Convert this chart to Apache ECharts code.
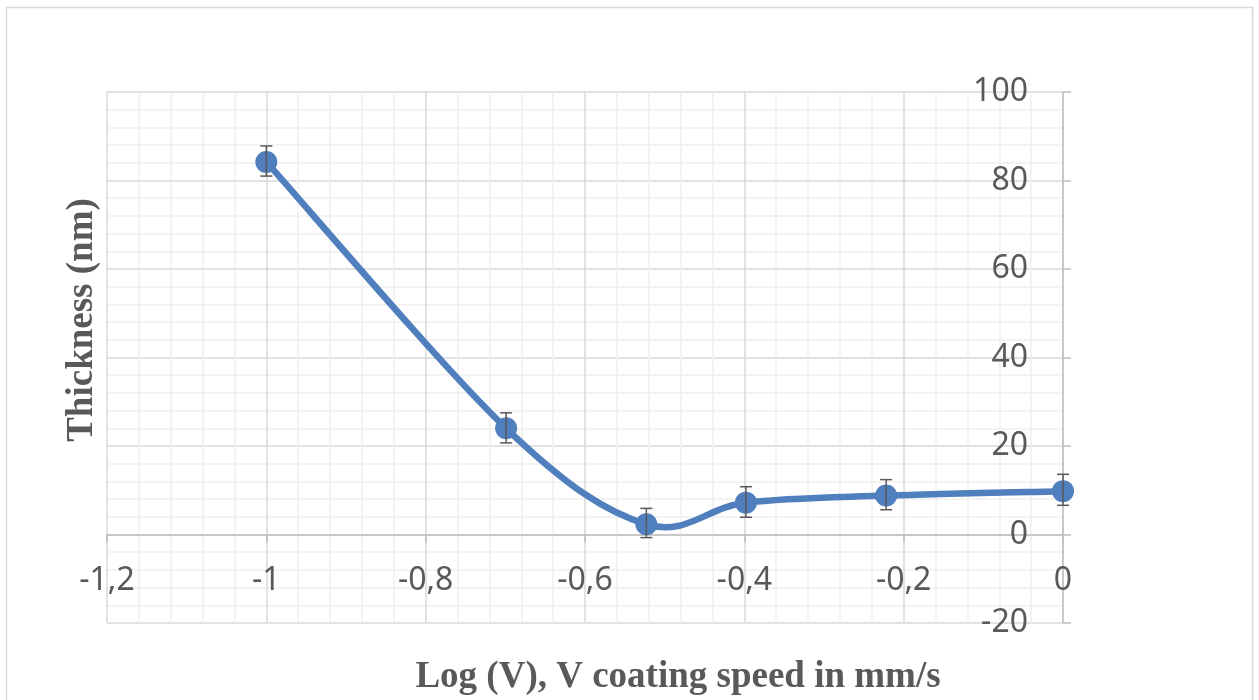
<!DOCTYPE html>
<html>
<head>
<meta charset="utf-8">
<script src="https://cdn.jsdelivr.net/npm/echarts@6/dist/echarts.min.js"></script>
<style>
html,body{margin:0;padding:0;background:#fff}
#chart{width:1259px;height:700px}
</style>
</head>
<body>
<div id="chart"></div>
<script>
// log10 of coating speed (0.1 .. 1 mm/s)
const logV = [-1, -0.699, -0.523, -0.398, -0.222, 0];
const thickness = [84.2, 24, 2.3, 7.2, 8.8, 9.8];
const errPlus = [3.6, 3.5, 3.6, 3.6, 3.6, 3.8];
const errMinus = [3.2, 3.3, 3, 3.3, 3.2, 3.2];

const xTitle = 'Log (V), V coating speed in mm/s';
const yTitle = 'Thickness (nm)';

const grey = '#595959';
const blue = '#4f7fbd';
const fmt = v => String(+Number(v).toFixed(2)).replace('.', ',');

const points = logV.map((x, i) => [x, thickness[i]]);
const bars = logV.map((x, i) => [x, thickness[i] - errMinus[i], thickness[i] + errPlus[i]]);

// excel-like smoothed line (catmull-rom, 1/6 handles), drawn once
function renderCurve(params, api) {
  if (params.dataIndex !== 0) return null;
  const p = points.map(d => api.coord(d));
  const segs = [];
  for (let i = 0; i < p.length - 1; i++) {
    const a = p[Math.max(i - 1, 0)], b = p[i], c = p[i + 1], d = p[Math.min(i + 2, p.length - 1)];
    segs.push({
      type: 'bezierCurve',
      shape: {
        x1: b[0], y1: b[1], x2: c[0], y2: c[1],
        cpx1: b[0] + (c[0] - a[0]) / 6, cpy1: b[1] + (c[1] - a[1]) / 6,
        cpx2: c[0] - (d[0] - b[0]) / 6, cpy2: c[1] - (d[1] - b[1]) / 6
      },
      style: {stroke: blue, lineWidth: 6.5, fill: null, lineCap: 'round'}
    });
  }
  return {type: 'group', children: segs};
}

const chart = echarts.init(document.getElementById('chart'));
chart.setOption({
  animation: false,
  grid: {left: 107, right: 196, top: 92, bottom: 77},
  graphic: [
    {type: 'rect', shape: {x: 6.5, y: 7.5, width: 1246, height: 720},
      style: {fill: 'none', stroke: '#d9d9d9', lineWidth: 1.5}, silent: true},
    {type: 'text', x: 678, y: 677,
      style: {text: xTitle, font: 'bold 37px "Liberation Serif"', fill: grey, align: 'center', verticalAlign: 'middle'}},
    {type: 'text', x: 82, y: 320, rotation: Math.PI / 2,
      style: {text: yTitle, font: 'bold 37px "Liberation Serif"', fill: grey, align: 'center', verticalAlign: 'middle'}}
  ],
  xAxis: {
    type: 'value', min: -1.2, max: 0, interval: 0.2,
    offset: -88.5,
    axisLine: {onZero: false, lineStyle: {color: '#bfbfbf', width: 1.5}},
    axisTick: {show: true, length: 8, lineStyle: {color: '#bfbfbf', width: 1.5}},
    axisLabel: {margin: 30, fontSize: 32, color: grey, fontFamily: 'Noto Sans', formatter: fmt},
    splitLine: {show: true, lineStyle: {color: '#d9d9d9', width: 1.5}},
    minorTick: {show: false, splitNumber: 5},
    minorSplitLine: {show: true, lineStyle: {color: '#efefef', width: 1.5}}
  },
  yAxis: {
    type: 'value', position: 'right', min: -20, max: 100, interval: 20,
    axisLine: {show: true, onZero: false, lineStyle: {color: '#bfbfbf', width: 1.5}},
    axisTick: {show: true, length: 8, lineStyle: {color: '#bfbfbf', width: 1.5}},
    axisLabel: {inside: true, margin: 35, fontSize: 32, color: grey, fontFamily: 'Noto Sans'},
    splitLine: {show: true, lineStyle: {color: '#d9d9d9', width: 1.5}},
    minorTick: {show: false, splitNumber: 5},
    minorSplitLine: {show: true, lineStyle: {color: '#efefef', width: 1.5}}
  },
  series: [
    {type: 'custom', data: points, renderItem: renderCurve, z: 2},
    {
      type: 'scatter', data: points,
      itemStyle: {color: blue, opacity: 1},
      symbol: 'circle', symbolSize: 22, z: 3
    },
    {
      type: 'custom', data: bars, z: 4,
      renderItem(params, api) {
        const lo = api.coord([api.value(0), api.value(1)]);
        const hi = api.coord([api.value(0), api.value(2)]);
        const w = 6;
        const st = {stroke: grey, lineWidth: 1.5};
        return {type: 'group', children: [
          {type: 'line', shape: {x1: hi[0], y1: hi[1], x2: lo[0], y2: lo[1]}, style: st},
          {type: 'line', shape: {x1: hi[0] - w, y1: hi[1], x2: hi[0] + w, y2: hi[1]}, style: st},
          {type: 'line', shape: {x1: lo[0] - w, y1: lo[1], x2: lo[0] + w, y2: lo[1]}, style: st}
        ]};
      }
    }
  ]
});
</script>
</body>
</html>
